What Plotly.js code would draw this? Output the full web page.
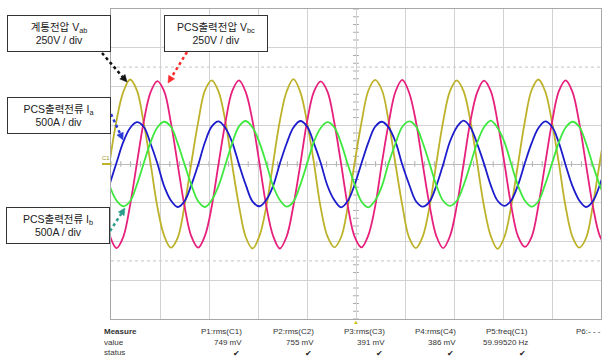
<!DOCTYPE html>
<html>
<head>
<meta charset="utf-8">
<script src="https://cdn.plot.ly/plotly-3.0.1.min.js"></script>
<style>html,body{margin:0;padding:0;background:#fff;}#chart{width:603px;height:358px;}</style>
</head>
<body>
<div id="chart"></div>
<script>
// Time base: 10 ms/div, 10 divisions (sample step = 1/12 of a 60 Hz period)
const sampleStart = -0.267;   // ms
const sampleStep = 1.38889;   // ms

// Vertical values in divisions (250 V/div for voltages, 500 A/div for currents)
const vab = [0.05,1.12,1.86,2.18,1.90,1.06,0.02,-1.10,-1.85,-2.16,-1.90,-1.07,
             0.03,1.08,1.90,2.16,1.87,1.10,-0.03,-1.08,-1.89,-2.18,-1.86,-1.11,
             0.01,1.11,1.87,2.19,1.86,1.08,0.04,-1.12,-1.87,-2.15,-1.89,-1.08,
             0.04,1.07,1.89,2.17,1.91,1.09,-0.01,-1.07,-1.90,-2.17,-1.87,-1.10,
             0.02,1.10,1.88,2.16,1.88,1.11,0.03,-1.09,-1.86,-2.19,-1.88,-1.09,
             0.00,1.09,1.91,2.18,1.87,1.07,0.02,-1.11,-1.88,-2.16,-1.91,-1.06,
             0.03,1.10];
const vbc = [-1.84,-2.17,-1.88,-1.06,0.02,1.09,1.85,2.14,1.88,1.06,-0.02,-1.09,
             -1.87,-2.16,-1.85,-1.09,0.01,1.07,1.88,2.16,1.85,1.10,0.03,-1.07,
             -1.85,-2.18,-1.87,-1.07,-0.02,1.09,1.86,2.13,1.87,1.07,0.01,-1.10,
             -1.88,-2.15,-1.84,-1.10,0.03,1.06,1.87,2.17,1.84,1.09,-0.01,-1.06,
             -1.86,-2.17,-1.86,-1.08,0.00,1.10,1.85,2.15,1.88,1.08,0.02,-1.08,
             -1.87,-2.14,-1.88,-1.07,0.02,1.08,1.88,2.16,1.86,1.06,-0.02,-1.09,
             -1.85,-2.16];
const ia  = [-0.52,0.03,0.57,0.93,1.08,0.96,0.53,0.02,-0.57,-0.94,-1.11,-0.96,
             -0.54,-0.02,0.56,0.97,1.10,0.93,0.56,-0.01,-0.54,-0.97,-1.09,-0.93,
             -0.57,0.01,0.53,0.94,1.11,0.97,0.54,0.03,-0.56,-0.93,-1.12,-0.95,
             -0.53,0.02,0.55,0.96,1.09,0.94,0.57,-0.02,-0.53,-0.96,-1.10,-0.97,
             -0.56,-0.01,0.58,0.95,1.12,0.95,0.52,0.01,-0.55,-0.95,-1.08,-0.94,
             -0.54,0.02,0.54,0.93,1.10,0.96,0.55,-0.03,-0.57,-0.94,-1.11,-0.96,
             -0.55,0.01];
const ib  = [-0.57,-0.94,-1.09,-0.96,-0.53,0.02,0.56,0.94,1.09,0.96,0.53,-0.01,
             -0.54,-0.96,-1.11,-0.93,-0.56,-0.02,0.54,0.97,1.11,0.94,0.56,0.02,
             -0.56,-0.93,-1.10,-0.97,-0.54,0.01,0.57,0.93,1.08,0.95,0.54,-0.02,
             -0.53,-0.97,-1.12,-0.94,-0.57,0.03,0.53,0.96,1.10,0.97,0.55,0.01,
             -0.55,-0.95,-1.08,-0.95,-0.55,-0.01,0.55,0.95,1.12,0.93,0.57,0.00,
             -0.56,-0.94,-1.10,-0.96,-0.52,0.02,0.56,0.94,1.09,0.96,0.53,-0.03,
             -0.54,-0.96];

const seriesNames = ['Vab','Vbc','Ia','Ib'];
const seriesColors = ['#bdb22a','#e6207c','#1c1ccc','#3ee83e'];

const labelTexts = ['계통전압 V<sub>ab</sub><br>250V / div',
                    'PCS출력전압 V<sub>bc</sub><br>250V / div',
                    'PCS출력전류 I<sub>a</sub><br>500A / div',
                    'PCS출력전류 I<sub>b</sub><br>500A / div'];

const measHeaders = ['P1:rms(C1)','P2:rms(C2)','P3:rms(C3)','P4:rms(C4)','P5:freq(C1)'];
const measValues  = ['749 mV','755 mV','391 mV','386 mV','59.99520 Hz'];

// ---- layout helpers (pixel -> paper) ----
const W = 603, H = 358, L = 111, R = 601, T = 9, B = 319;
const px = x => (x - L) / (R - L);
const py = y => (B - y) / (B - T);

const dataSets = [vab, vbc, ia, ib];
const traces = dataSets.map((d, i) => ({
  type: 'scatter', mode: 'lines', name: seriesNames[i],
  x0: sampleStart, dx: sampleStep, y: d,
  line: {color: seriesColors[i], width: 1.8, shape: 'spline', smoothing: 1},
  hoverinfo: 'skip'
}));

const shapes = [];
const annotations = [];

// center-line minor ticks
for (let i = 0; i <= 50; i++) {
  shapes.push({type:'line', xref:'x', yref:'y', x0:i*2, x1:i*2, y0:-0.07, y1:0.07,
               line:{color:'#a8a8a8', width:1}, layer:'below'});
}
for (let i = -20; i <= 20; i++) {
  shapes.push({type:'line', xref:'x', yref:'y', x0:49.4, x1:50.6, y0:i*0.2, y1:i*0.2,
               line:{color:'#a8a8a8', width:1}, layer:'below'});
}
// dotted cursor levels
[2.5, -2.5].forEach(v => shapes.push({type:'line', xref:'x', yref:'y', x0:0, x1:100, y0:v, y1:v,
  line:{color:'#c4c4c4', width:1, dash:'dot'}, layer:'below'}));

// channel ground marker
shapes.push({type:'line', xref:'paper', yref:'y', x0:px(102), x1:px(111), y0:0, y1:0,
             line:{color:'#bdb22a', width:2}});
annotations.push({xref:'paper', yref:'paper', x:px(106), y:py(158), text:'C1', showarrow:false,
  font:{size:6, color:'#9a9420', family:'Liberation Sans'}, xanchor:'center', yanchor:'middle'});

// label boxes
const boxes = [[7,15],[164,15],[7,97],[6,207]];
boxes.forEach((b, i) => annotations.push({
  xref:'paper', yref:'paper', x:px(b[0]), y:py(b[1]), xanchor:'left', yanchor:'top',
  text:labelTexts[i], showarrow:false, align:'center',
  width:100, height:33, borderwidth:1, bordercolor:'#333', borderpad:1, bgcolor:'#fff',
  font:{size:10.5, color:'#222', family:'Liberation Sans, Noto Sans CJK KR'}
}));

// dotted pointer arrows with filled heads
const arrows = [
  {from:[102,53], to:[127,82], color:'#111'},
  {from:[187,52], to:[168,83], color:'#ff2a2a'},
  {from:[111,114], to:[123,140], color:'#2a3ad6'},
  {from:[110,231], to:[125,208], color:'#2a9d8a'}
];
arrows.forEach(a => {
  const dx = a.to[0]-a.from[0], dy = a.to[1]-a.from[1];
  const len = Math.hypot(dx, dy), ux = dx/len, uy = dy/len;
  const hl = 7, hw = 3.5;
  const bx = a.to[0]-ux*hl, by = a.to[1]-uy*hl;
  shapes.push({type:'line', xref:'paper', yref:'paper', x0:px(a.from[0]), y0:py(a.from[1]),
    x1:px(bx), y1:py(by), line:{color:a.color, width:2.5, dash:'dot'}});
  const p1 = [bx - uy*hw, by + ux*hw], p2 = [bx + uy*hw, by - ux*hw];
  shapes.push({type:'path', xref:'paper', yref:'paper',
    path:`M ${px(a.to[0])} ${py(a.to[1])} L ${px(p1[0])} ${py(p1[1])} L ${px(p2[0])} ${py(p2[1])} Z`,
    fillcolor:a.color, line:{color:a.color, width:0.5}});
});

// trigger marker
annotations.push({xref:'x', yref:'paper', x:50, y:py(322), text:'▲', showarrow:false,
  font:{size:6, color:'#c8c020'}, xanchor:'center', yanchor:'middle'});

// measure table
const tf = {size:8, color:'#333', family:'Liberation Sans'};
const rowY = [331, 342, 352];
['<b>Measure</b>','value','status'].forEach((t, i) => annotations.push({
  xref:'paper', yref:'paper', x:px(102), y:py(rowY[i]), text:t, showarrow:false,
  xanchor:'left', yanchor:'middle', font:tf}));
const colRight = [244, 316, 387, 458, 530];
measHeaders.forEach((h, i) => {
  annotations.push({xref:'paper', yref:'paper', x:px(colRight[i]), y:py(rowY[0]), text:h,
    showarrow:false, xanchor:'right', yanchor:'middle', font:tf});
  annotations.push({xref:'paper', yref:'paper', x:px(colRight[i]), y:py(rowY[1]), text:measValues[i],
    showarrow:false, xanchor:'right', yanchor:'middle', font:tf});
  annotations.push({xref:'paper', yref:'paper', x:px(colRight[i]-2), y:py(rowY[2]), text:'✔',
    showarrow:false, xanchor:'right', yanchor:'middle', font:{size:8, color:'#222'}});
});
annotations.push({xref:'paper', yref:'paper', x:px(603), y:py(rowY[0]), text:'P6:- - -',
  showarrow:false, xanchor:'right', yanchor:'middle', font:tf});

const layout = {
  width: W, height: H,
  margin: {l: L, r: W - R, t: T, b: H - B, pad: 0},
  paper_bgcolor: '#fff', plot_bgcolor: '#fff',
  showlegend: false,
  xaxis: {range:[0,100], dtick:10, tick0:0, showgrid:true, gridcolor:'#d2d2d2', gridwidth:1,
          zeroline:false, showticklabels:false, ticks:'', showline:true, linecolor:'#a8a8a8',
          linewidth:1, mirror:true, fixedrange:true},
  yaxis: {range:[-4,4], dtick:1, tick0:0, showgrid:true, gridcolor:'#d2d2d2', gridwidth:1,
          zeroline:true, zerolinecolor:'#bdbdbd', zerolinewidth:1,
          showticklabels:false, ticks:'', showline:true, linecolor:'#a8a8a8',
          linewidth:1, mirror:true, fixedrange:true},
  shapes: shapes,
  annotations: annotations
};

Plotly.newPlot('chart', traces, layout, {displayModeBar:false, staticPlot:true});
</script>
</body>
</html>
